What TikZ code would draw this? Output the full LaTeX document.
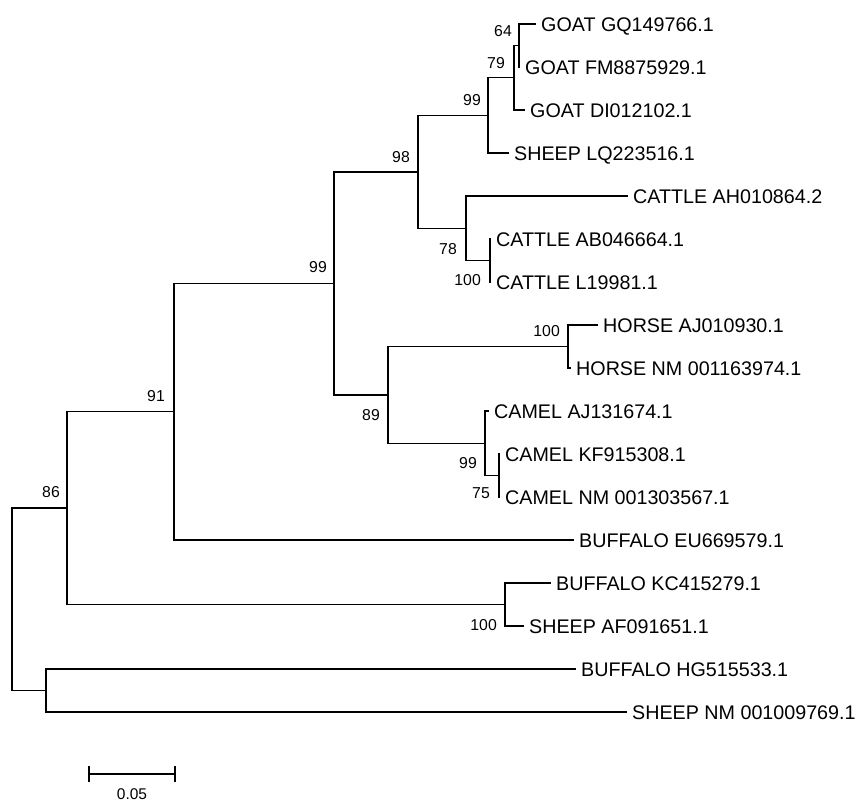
\documentclass[tikz,border=0pt]{standalone}
\usepackage{fontspec}
\setmainfont{Liberation Sans}
\begin{document}
\begin{tikzpicture}[x=1pt,y=-1pt,
  br/.style={line width=1.5pt,line cap=rect},
  leaf/.style={anchor=base west,inner sep=0pt,xshift=6pt,yshift=-7.1pt,font=\fontsize{19.7}{22}\selectfont},
  bs/.style={anchor=base east,inner sep=0pt,yshift=-5.7pt,font=\fontsize{15.8}{18}\selectfont}]
\useasboundingbox (0,0) rectangle (858,802);
% internal nodes
\coordinate (r)     at (12,599.3);
\coordinate (n86)   at (67,508.1);
\coordinate (nbs)   at (46,690.5);
\coordinate (n91)   at (174,411.7);
\coordinate (n99a)  at (334,283.3);
\coordinate (n98)   at (418,171.8);
\coordinate (n99g)  at (488,115.4);
\coordinate (n79)   at (514,77.75);
\coordinate (n64)   at (519,45.5);
\coordinate (n78)   at (466,228.25);
\coordinate (n100c) at (490,260.5);
\coordinate (n89)   at (388,394.9);
\coordinate (n100h) at (568,346.5);
\coordinate (n99c)  at (485,443.25);
\coordinate (n75)   at (499,475.5);
\coordinate (n100b) at (505,604.5);
% leaves
\coordinate (l1)  at (535,24);
\coordinate (l2)  at (519,67);
\coordinate (l3)  at (524,110);
\coordinate (l4)  at (508,153);
\coordinate (l5)  at (627,196);
\coordinate (l6)  at (490,239);
\coordinate (l7)  at (490,282);
\coordinate (l8)  at (597,325);
\coordinate (l9)  at (570,368);
\coordinate (l10) at (488,411);
\coordinate (l11) at (499,454);
\coordinate (l12) at (499,497);
\coordinate (l13) at (573,540);
\coordinate (l14) at (550,583);
\coordinate (l15) at (523,626);
\coordinate (l16) at (575,669);
\coordinate (l17) at (626,712);
% branches
\draw[br] (r) |- (n86);  \draw[br] (r) |- (nbs);
\draw[br] (n86) |- (n91); \draw[br] (n86) |- (n100b);
\draw[br] (n91) |- (n99a); \draw[br] (n91) |- (l13);
\draw[br] (n99a) |- (n98); \draw[br] (n99a) |- (n89);
\draw[br] (n98) |- (n99g); \draw[br] (n98) |- (n78);
\draw[br] (n99g) |- (n79); \draw[br] (n99g) |- (l4);
\draw[br] (n79) |- (n64); \draw[br] (n79) |- (l3);
\draw[br] (n64) |- (l1); \draw[br] (n64) |- (l2);
\draw[br] (n78) |- (l5); \draw[br] (n78) |- (n100c);
\draw[br] (n100c) |- (l6); \draw[br] (n100c) |- (l7);
\draw[br] (n89) |- (n100h); \draw[br] (n89) |- (n99c);
\draw[br] (n100h) |- (l8); \draw[br] (n100h) |- (l9);
\draw[br] (n99c) |- (l10); \draw[br] (n99c) |- (n75);
\draw[br] (n75) |- (l11); \draw[br] (n75) |- (l12);
\draw[br] (n100b) |- (l14); \draw[br] (n100b) |- (l15);
\draw[br] (nbs) |- (l16); \draw[br] (nbs) |- (l17);
% leaf labels
\node[leaf] (t1)  at (l1)  {GOAT GQ149766.1};
\node[leaf] (t2)  at (l2)  {GOAT FM8875929.1};
\node[leaf] (t3)  at (l3)  {GOAT DI012102.1};
\node[leaf] (t4)  at (l4)  {SHEEP LQ223516.1};
\node[leaf] (t5)  at (l5)  {CATTLE AH010864.2};
\node[leaf] (t6)  at (l6)  {CATTLE AB046664.1};
\node[leaf] (t7)  at (l7)  {CATTLE L19981.1};
\node[leaf] (t8)  at (l8)  {HORSE AJ010930.1};
\node[leaf] (t9)  at (l9)  {HORSE NM 001163974.1};
\node[leaf] (t10) at (l10) {CAMEL AJ131674.1};
\node[leaf] (t11) at (l11) {CAMEL KF915308.1};
\node[leaf] (t12) at (l12) {CAMEL NM 001303567.1};
\node[leaf] (t13) at (l13) {BUFFALO EU669579.1};
\node[leaf] (t14) at (l14) {BUFFALO KC415279.1};
\node[leaf] (t15) at (l15) {SHEEP AF091651.1};
\node[leaf] (t16) at (l16) {BUFFALO HG515533.1};
\node[leaf] (t17) at (l17) {SHEEP NM 001009769.1};
% bootstrap values
\node[bs] (b64)   at (512,31)  {64};
\node[bs] (b79)   at (505,63)  {79};
\node[bs] (b99g)  at (481,100) {99};
\node[bs] (b98)   at (410,157) {98};
\node[bs] (b78)   at (457,249) {78};
\node[bs] (b100c) at (481,280) {100};
\node[bs] (b99a)  at (327,267) {99};
\node[bs] (b100h) at (560,331) {100};
\node[bs] (b89)   at (380,415) {89};
\node[bs] (b99c)  at (477,463) {99};
\node[bs] (b75)   at (490,493) {75};
\node[bs] (b91)   at (165,396) {91};
\node[bs] (b86)   at (60,492)  {86};
\node[bs] (b100b) at (497,625) {100};
% scale bar
\coordinate (s1) at (89,774);
\coordinate (s2) at (175,774);
\draw[br,line cap=butt] (s1) -- (s2);
\draw[br,line cap=butt] ([yshift=8pt]s1) -- ([yshift=-8pt]s1);
\draw[br,line cap=butt] ([yshift=8pt]s2) -- ([yshift=-8pt]s2);
\node[anchor=base,inner sep=0pt,font=\fontsize{15.5}{18}\selectfont] (sl) at (132,799) {0.05};
\end{tikzpicture}
\end{document}
